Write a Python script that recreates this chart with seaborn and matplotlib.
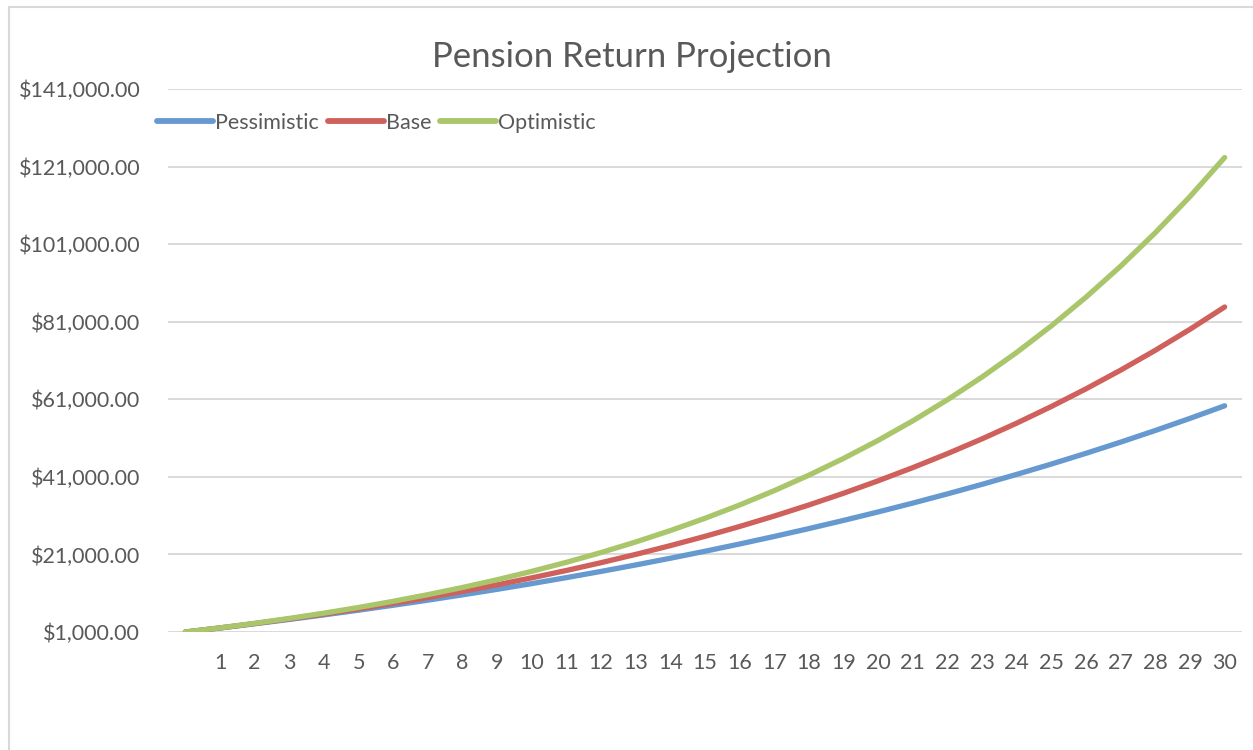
import matplotlib
matplotlib.use("Agg")
import matplotlib.pyplot as plt
from matplotlib.lines import Line2D
from matplotlib.ticker import FuncFormatter
import pandas as pd
import seaborn as sns

# years 0..30 (year 0 has no label on the axis)
years = list(range(31))
pessimistic = [1000, 2040, 3122, 4246, 5416, 6633, 7898, 9214, 10583, 12006,
               13486, 15026, 16627, 18292, 20024, 21825, 23698, 25645, 27671, 29778,
               31969, 34248, 36618, 39083, 41646, 44312, 47084, 49968, 52966, 56085,
               59328]
base = [1000, 2060, 3184, 4375, 5637, 6975, 8394, 9897, 11491, 13181,
        14972, 16870, 18882, 21015, 23276, 25673, 28213, 30906, 33760, 36786,
        39993, 43392, 46996, 50816, 54865, 59156, 63706, 68528, 73640, 79058,
        84802]
optimistic = [1000, 2080, 3246, 4506, 5867, 7336, 8923, 10637, 12488, 14487,
              16645, 18977, 21495, 24215, 27152, 30324, 33750, 37450, 41446, 45762,
              50423, 55457, 60893, 66765, 73106, 79954, 87351, 95339, 103966, 113283,
              123346]
scenarios = ["Pessimistic", "Base", "Optimistic"]
colors = ["#6699CF", "#CF605B", "#A9C66A"]
y_ticks = [1000, 21000, 41000, 61000, 81000, 101000, 121000, 141000]
x_labels = [str(i) for i in range(1, 31)]

df = pd.DataFrame({
    "year": years * 3,
    "value": pessimistic + base + optimistic,
    "scenario": [s for s in scenarios for _ in years],
})

sns.set_style("white")
plt.rcParams["font.family"] = ["Lato", "DejaVu Sans"]
text_col = "#595959"

fig = plt.figure(figsize=(12.53, 7.5), dpi=100)
ax = fig.add_axes([0.1341, 0.1573, 0.8571, 0.724])

sns.lineplot(data=df, x="year", y="value", hue="scenario", hue_order=scenarios,
             palette=colors, linewidth=3.8, ax=ax, legend=True,
             solid_capstyle="round")

ax.set_xlim(-0.5, 30.5)
ax.set_ylim(1000, 141000)
ax.set_yticks(y_ticks)
ax.yaxis.set_major_formatter(FuncFormatter(lambda v, p: f"${v:,.2f}"))
ax.set_xticks(range(1, 31))
ax.set_xticklabels(x_labels)
ax.grid(axis="y", color="#D9D9D9", linewidth=1.4)
ax.set_axisbelow(True)
for s in ax.spines.values():
    s.set_visible(False)
ax.tick_params(axis="both", length=0, labelsize=15.5, colors=text_col)
ax.tick_params(axis="y", pad=20)
ax.tick_params(axis="x", pad=15)
ax.set_xlabel("")
ax.set_ylabel("")

handles, labels = ax.get_legend_handles_labels()
for h in handles:
    h.set_linewidth(4.2)
ax.legend(handles, labels, loc="center left", bbox_to_anchor=(0.117, 0.836),
          bbox_transform=fig.transFigure, ncol=3, frameon=False,
          fontsize=15.5, handlelength=2.6, handletextpad=0.1,
          columnspacing=0.4, borderpad=0, labelcolor=text_col)

fig.text(0.504, 0.924, "Pension Return Projection", ha="center", va="center",
         fontsize=25, color=text_col)

# chart area border (only top and left visible)
bx, by = 8.5 / 1253, 1 - 6.5 / 750
fig.add_artist(Line2D([bx, bx], [-0.1, by], transform=fig.transFigure,
                      color="#D9D9D9", linewidth=1.5))
fig.add_artist(Line2D([bx, 1.1], [by, by], transform=fig.transFigure,
                      color="#D9D9D9", linewidth=1.5))

fig.savefig("out.png", dpi=100, facecolor="white")
